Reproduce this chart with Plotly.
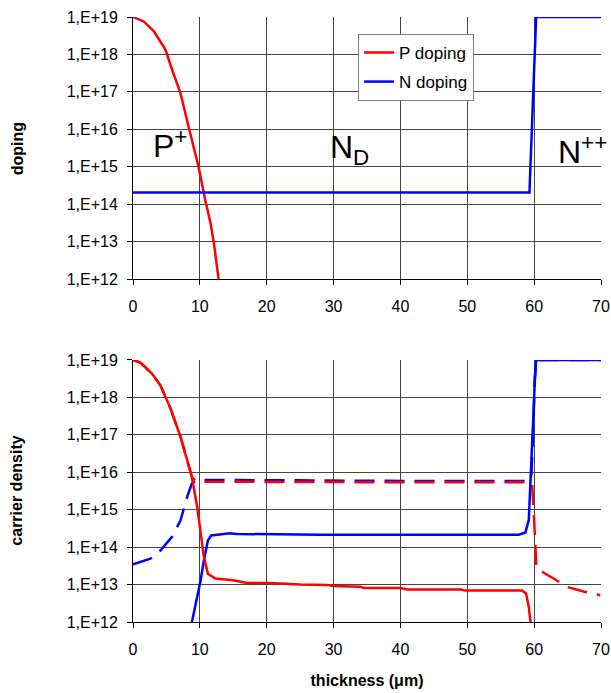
import plotly.graph_objects as go

# ---- doping profiles (top panel) ----
x_p_doping = [0, 1.6, 3.1, 4.85, 5.85, 7.1, 8.3, 9.8, 10.8, 11.6, 12.1, 12.8, 13.3]
p_doping = [1e19, 7.6e18, 4.2e18, 1.35e18, 3.9e17, 9.3e16, 1.2e16, 1.0e15, 1.3e14,
            3.1e13, 9.1e12, 1.0e12, 4.0e11]

x_n_doping = [0, 59.3, 60.3, 70]
n_doping = [2.05e14, 2.05e14, 1e19, 1e19]

# ---- carrier densities (bottom panel) ----
x_p_solid = [0, 1.1, 2.8, 4.1, 5.6, 7.1, 8.1, 8.8, 9.6, 10.1, 10.6, 11.2, 12.3, 15.0,
             17.0, 20.5, 25.0, 29.0, 30.0, 34.0, 34.5, 40.0, 41.0, 49.0, 49.7, 58.2,
             58.8, 59.2, 59.45, 59.6]
p_solid = [1e19, 8.5e18, 4.4e18, 2.1e18, 5.1e17, 8.9e16, 2.1e16, 7.6e15, 1.2e15,
           2.3e14, 5.5e13, 1.95e13, 1.45e13, 1.3e13, 1.1e13, 1.1e13, 1.0e13, 9.8e12,
           9.1e12, 8.7e12, 8.1e12, 8.1e12, 7.4e12, 7.4e12, 6.9e12, 6.9e12, 5.8e12,
           2.5e12, 1.0e12, 6.0e11]

x_n_solid = [8.7, 9.6, 10.1, 10.6, 11.2, 11.7, 13.1, 14.5, 15.5, 28, 57.7, 58.7, 59.2,
             59.35, 59.6, 59.8, 59.95, 60.1, 60.3, 70]
n_solid = [8.0e11, 4.6e12, 1.26e13, 4.4e13, 1.5e14, 2.05e14, 2.2e14, 2.35e14, 2.25e14,
           2.15e14, 2.15e14, 2.45e14, 5.4e14, 2.2e15, 9.5e15, 7.4e16, 5.9e17, 3.0e18,
           1e19, 1e19]

x_n_dash = [0, 1.1, 2.6, 4.1, 5.8, 7.1, 8.1, 8.8, 9.6, 15, 30, 45, 59.4, 59.6, 59.8,
            59.95, 60.1, 60.3, 70]
n_dash = [3.5e13, 4.0e13, 4.9e13, 8.1e13, 1.85e14, 5.1e14, 2.2e15, 5.0e15, 6.2e15,
          6.2e15, 5.9e15, 5.8e15, 5.8e15, 9.5e15, 7.4e16, 5.9e17, 3.0e18, 1e19, 1e19]

x_p_dash = [0, 1.1, 2.8, 4.1, 5.6, 7.1, 8.1, 8.8, 9.4, 20, 40, 59.6, 59.7, 59.95, 60.2,
            60.35, 62.9, 64.9, 67.4, 69.9]
p_dash = [1e19, 8.5e18, 4.4e18, 2.1e18, 5.1e17, 8.9e16, 2.1e16, 7.6e15, 5.6e15,
          5.5e15, 5.4e15, 5.4e15, 5.1e15, 7.9e14, 6.8e13, 2.7e13, 1.45e13, 8.7e12,
          6.5e12, 5.2e12]

decades = [1e12, 1e13, 1e14, 1e15, 1e16, 1e17, 1e18, 1e19]
decade_labels = ["1,E+12", "1,E+13", "1,E+14", "1,E+15", "1,E+16", "1,E+17",
                 "1,E+18", "1,E+19"]
x_ticks = [0, 10, 20, 30, 40, 50, 60, 70]

RED = "#ff0000"
BLUE = "#0000ff"
FONT = "Liberation Sans, Arial, sans-serif"
DASH = "20px,10px"
LW = 2.5

fig = go.Figure()

# top panel
fig.add_trace(go.Scatter(x=x_p_doping, y=p_doping, mode="lines", name="P doping",
                         line=dict(color=RED, width=LW), xaxis="x", yaxis="y",
                         legendgroup="p"))
fig.add_trace(go.Scatter(x=x_n_doping, y=n_doping, mode="lines", name="N doping",
                         line=dict(color=BLUE, width=LW), xaxis="x", yaxis="y",
                         legendgroup="n"))

# bottom panel
fig.add_trace(go.Scatter(x=x_n_dash, y=n_dash, mode="lines", showlegend=False,
                         line=dict(color=BLUE, width=LW, dash=DASH),
                         xaxis="x2", yaxis="y2"))
fig.add_trace(go.Scatter(x=x_p_dash, y=p_dash, mode="lines", showlegend=False,
                         line=dict(color=RED, width=LW, dash=DASH),
                         xaxis="x2", yaxis="y2"))
fig.add_trace(go.Scatter(x=x_n_solid, y=n_solid, mode="lines", showlegend=False,
                         line=dict(color=BLUE, width=LW), xaxis="x2", yaxis="y2"))
fig.add_trace(go.Scatter(x=x_p_solid, y=p_solid, mode="lines", showlegend=False,
                         line=dict(color=RED, width=LW), xaxis="x2", yaxis="y2"))

GRID = "#454545"


def xaxis_style(anchor, title=None):
    d = dict(anchor=anchor, domain=[0, 1], range=[0, 70], tickvals=x_ticks,
             ticktext=[str(v) for v in x_ticks], showgrid=True, gridcolor=GRID,
             gridwidth=1, showline=True, linecolor="black", linewidth=1,
             ticks="outside", ticklen=5, tickcolor="black", zeroline=False,
             automargin=False, ticklabelstandoff=8,
             tickfont=dict(family=FONT, size=16, color="black"))
    if title:
        d["title"] = dict(text=title, font=dict(family=FONT, size=16, color="black"),
                          standoff=17)
    return d


def yaxis_style(anchor, domain):
    return dict(anchor=anchor, domain=domain, type="log", range=[12, 19],
                tickvals=decades, ticktext=decade_labels, showgrid=True,
                gridcolor=GRID, gridwidth=1, showline=True, linecolor="black",
                linewidth=1, ticks="outside", ticklen=5, tickcolor="black",
                zeroline=False, automargin=False, ticklabelstandoff=6,
                tickfont=dict(family=FONT, size=16, color="black"))


annotations = [
    dict(text="<b>doping</b>", xref="paper", yref="paper", x=-0.248, y=0.783,
         xanchor="center", yanchor="middle", textangle=-90, showarrow=False,
         font=dict(family=FONT, size=16, color="black")),
    dict(text="<b>carrier density</b>", xref="paper", yref="paper", x=-0.248, y=0.217,
         xanchor="center", yanchor="middle", textangle=-90, showarrow=False,
         font=dict(family=FONT, size=16, color="black")),
    dict(text="P<sup>+</sup>", xref="x", yref="y", x=2.7, y=15.62, xanchor="left",
         yanchor="middle", showarrow=False, font=dict(family=FONT, size=32, color="black")),
    dict(text="N<sub>D</sub>", xref="x", yref="y", x=29.1, y=15.45, xanchor="left",
         yanchor="middle", showarrow=False, font=dict(family=FONT, size=32, color="black")),
    dict(text="N<sup>++</sup>", xref="x", yref="y", x=63.3, y=15.45, xanchor="left",
         yanchor="middle", showarrow=False, font=dict(family=FONT, size=32, color="black")),
]

fig.update_layout(
    width=611, height=693,
    margin=dict(l=133, r=10, t=17, b=71, autoexpand=False),
    plot_bgcolor="white", paper_bgcolor="white",
    font=dict(family=FONT, size=16, color="black"),
    xaxis=xaxis_style("y"),
    yaxis=yaxis_style("x", [0.5669, 1.0]),
    xaxis2=xaxis_style("y2", "<b>thickness (\u03bcm)</b>"),
    yaxis2=yaxis_style("x2", [0.0, 0.4331]),
    legend=dict(x=0.481, y=0.972, xanchor="left", yanchor="top", bgcolor="white",
                bordercolor="#808080", borderwidth=1, tracegroupgap=4,
                font=dict(family=FONT, size=17, color="black")),
    annotations=annotations,
)

fig.write_html("out.html")
